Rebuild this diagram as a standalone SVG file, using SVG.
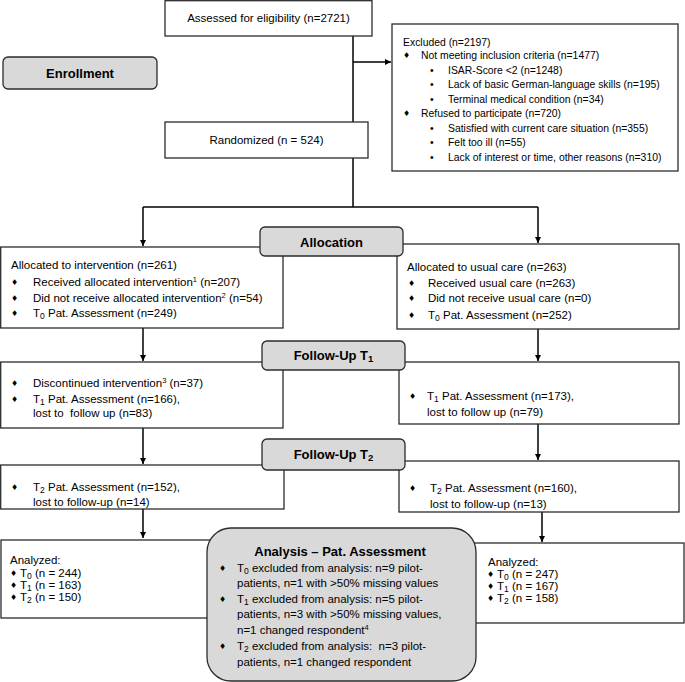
<svg xmlns="http://www.w3.org/2000/svg" width="685" height="682" viewBox="0 0 685 682">
<style>
.box{fill:#fff;stroke:#2b2b2b;stroke-width:1.3}
.lbl{fill:#d9d9d9;stroke:#2b2b2b;stroke-width:1.3}
.t{font-family:"Liberation Sans",Arial,sans-serif;font-size:11.5px;fill:#000;white-space:pre}
.s{font-size:10.4px}
.b{font-family:"Liberation Sans",Arial,sans-serif;font-size:13px;font-weight:bold;fill:#000}
.m{text-anchor:middle}
.d{font-family:"DejaVu Sans",sans-serif;font-size:8px}
.sub{font-size:8.5px}
.sup{font-size:7.5px}
.c{stroke:#000;stroke-width:1.5;fill:none}
</style>
<defs>
<marker id="ah" viewBox="0 0 10 10" refX="10" refY="5" markerWidth="6" markerHeight="6" markerUnits="userSpaceOnUse" orient="auto">
<path d="M0,0 L10,5 L0,10 z" fill="#000"/>
</marker>
</defs>

<g id="connectors">
<path class="c" d="M353,36 V122"/>
<path class="c" d="M353,62 H391" marker-end="url(#ah)"/>
<path class="c" d="M353,158 V207"/>
<path class="c" d="M143,207 H538"/>
<path class="c" d="M143,207 V246" marker-end="url(#ah)"/>
<path class="c" d="M538,207 V243" marker-end="url(#ah)"/>
<path class="c" d="M143,328 V361" marker-end="url(#ah)"/>
<path class="c" d="M538,329 V361" marker-end="url(#ah)"/>
<path class="c" d="M143,428 V464" marker-end="url(#ah)"/>
<path class="c" d="M538,424 V460" marker-end="url(#ah)"/>
<path class="c" d="M143,509 V538" marker-end="url(#ah)"/>
<path class="c" d="M542,512 V542" marker-end="url(#ah)"/>
</g>

<g id="assessed">
<rect class="box" x="165" y="0.7" width="207" height="35.3"/>
<text class="t m" x="268.5" y="22">Assessed for eligibility (n=2721)</text>
</g>

<g id="enrollment">
<rect class="lbl" x="3" y="57" width="154" height="32" rx="5"/>
<text class="b m" x="80" y="78">Enrollment</text>
</g>

<g id="excluded">
<rect class="box" x="392" y="24" width="286" height="147"/>
<text class="t s" x="403" y="46">Excluded (n=2197)</text>
<text class="t d" x="403" y="58">♦</text><text class="t s" x="421" y="59">Not meeting inclusion criteria (n=1477)</text>
<text class="t s" x="430" y="74">•</text><text class="t s" x="448" y="74">ISAR-Score &lt;2 (n=1248)</text>
<text class="t s" x="430" y="88">•</text><text class="t s" x="448" y="88">Lack of basic German-language skills (n=195)</text>
<text class="t s" x="430" y="103">•</text><text class="t s" x="448" y="103">Terminal medical condition (n=34)</text>
<text class="t d" x="403" y="116">♦</text><text class="t s" x="421" y="117">Refused to participate (n=720)</text>
<text class="t s" x="430" y="132">•</text><text class="t s" x="448" y="132">Satisfied with current care situation (n=355)</text>
<text class="t s" x="430" y="146">•</text><text class="t s" x="448" y="146">Felt too ill (n=55)</text>
<text class="t s" x="430" y="161">•</text><text class="t s" x="448" y="161">Lack of interest or time, other reasons (n=310)</text>
</g>

<g id="randomized">
<rect class="box" x="165" y="122" width="203" height="36"/>
<text class="t m" x="266.5" y="144">Randomized (n = 524)</text>
</g>

<g id="alloc-intervention">
<rect class="box" x="0.7" y="247" width="282.3" height="81"/>
<text class="t" x="11" y="269">Allocated to intervention (n=261)</text>
<text class="t d" x="11" y="285">♦</text><text class="t" x="33" y="286">Received allocated intervention<tspan class="sup" dy="-4">1</tspan><tspan dy="4"> (n=207)</tspan></text>
<text class="t d" x="11" y="301">♦</text><text class="t" x="33" y="302">Did not receive allocated intervention<tspan class="sup" dy="-4">2</tspan><tspan dy="4"> (n=54)</tspan></text>
<text class="t d" x="11" y="316">♦</text><text class="t" x="33" y="317">T<tspan class="sub" dy="2">0</tspan><tspan dy="-2"> Pat. Assessment (n=249)</tspan></text>
</g>

<g id="alloc-usual">
<rect class="box" x="397" y="244" width="282" height="85"/>
<text class="t" x="407" y="271">Allocated to usual care (n=263)</text>
<text class="t d" x="408" y="286">♦</text><text class="t" x="428" y="287">Received usual care (n=263)</text>
<text class="t d" x="408" y="301">♦</text><text class="t" x="428" y="302">Did not receive usual care (n=0)</text>
<text class="t d" x="408" y="318">♦</text><text class="t" x="428" y="319">T<tspan class="sub" dy="2">0</tspan><tspan dy="-2"> Pat. Assessment (n=252)</tspan></text>
</g>

<g id="allocation">
<rect class="lbl" x="260" y="227" width="143" height="29" rx="5"/>
<text class="b m" x="331.5" y="247">Allocation</text>
</g>

<g id="t1-intervention">
<rect class="box" x="0.7" y="362" width="282.3" height="66"/>
<text class="t d" x="11" y="386">♦</text><text class="t" x="33" y="387">Discontinued intervention<tspan class="sup" dy="-4">3</tspan><tspan dy="4"> (n=37)</tspan></text>
<text class="t d" x="11" y="402">♦</text><text class="t" x="33" y="403">T<tspan class="sub" dy="2">1</tspan><tspan dy="-2"> Pat. Assessment (n=166),</tspan></text>
<text class="t" x="33" y="417">lost to  follow up (n=83)</text>
</g>

<g id="t1-usual">
<rect class="box" x="399" y="362" width="280" height="62"/>
<text class="t d" x="409" y="399">♦</text><text class="t" x="427" y="400">T<tspan class="sub" dy="2">1</tspan><tspan dy="-2"> Pat. Assessment (n=173),</tspan></text>
<text class="t" x="427" y="416">lost to follow up (n=79)</text>
</g>

<g id="followup-t1">
<rect class="lbl" x="262" y="341" width="143" height="29" rx="5"/>
<text class="b m" x="333.5" y="360">Follow-Up T<tspan style="font-size:9.5px" dy="2">1</tspan></text>
</g>

<g id="t2-intervention">
<rect class="box" x="0.7" y="465" width="283.3" height="44"/>
<text class="t d" x="11" y="490">♦</text><text class="t" x="33" y="491">T<tspan class="sub" dy="2">2</tspan><tspan dy="-2"> Pat. Assessment (n=152),</tspan></text>
<text class="t" x="33" y="506">lost to follow-up (n=14)</text>
</g>

<g id="t2-usual">
<rect class="box" x="399" y="461" width="280" height="51"/>
<text class="t d" x="409" y="491">♦</text><text class="t" x="430" y="492">T<tspan class="sub" dy="2">2</tspan><tspan dy="-2"> Pat. Assessment (n=160),</tspan></text>
<text class="t" x="430" y="508">lost to follow-up (n=13)</text>
</g>

<g id="followup-t2">
<rect class="lbl" x="262" y="439" width="143" height="31" rx="5"/>
<text class="b m" x="333.5" y="459">Follow-Up T<tspan style="font-size:9.5px" dy="2">2</tspan></text>
</g>

<g id="analyzed-intervention">
<rect class="box" x="1" y="540" width="240" height="78"/>
<text class="t" x="10" y="564">Analyzed:</text>
<text class="t d" x="10" y="576">♦</text><text class="t" x="20" y="577">T<tspan class="sub" dy="2">0</tspan><tspan dy="-2"> (n = 244)</tspan></text>
<text class="t d" x="10" y="588">♦</text><text class="t" x="20" y="589">T<tspan class="sub" dy="2">1</tspan><tspan dy="-2"> (n = 163)</tspan></text>
<text class="t d" x="10" y="600">♦</text><text class="t" x="20" y="601">T<tspan class="sub" dy="2">2</tspan><tspan dy="-2"> (n = 150)</tspan></text>
</g>

<g id="analyzed-usual">
<rect class="box" x="440" y="543" width="244" height="80"/>
<text class="t" x="488" y="566">Analyzed:</text>
<text class="t d" x="487" y="577">♦</text><text class="t" x="497" y="578">T<tspan class="sub" dy="2">0</tspan><tspan dy="-2"> (n = 247)</tspan></text>
<text class="t d" x="487" y="589">♦</text><text class="t" x="497" y="590">T<tspan class="sub" dy="2">1</tspan><tspan dy="-2"> (n = 167)</tspan></text>
<text class="t d" x="487" y="601">♦</text><text class="t" x="497" y="602">T<tspan class="sub" dy="2">2</tspan><tspan dy="-2"> (n = 158)</tspan></text>
</g>

<g id="analysis">
<rect class="lbl" x="207" y="528" width="269" height="153" rx="24"/>
<text class="b m" x="340" y="556">Analysis – Pat. Assessment</text>
<text class="t d" x="219" y="571">♦</text><text class="t" x="237" y="572">T<tspan class="sub" dy="2">0</tspan><tspan dy="-2"> excluded from analysis: n=9 pilot-</tspan></text>
<text class="t" x="237" y="587">patients, n=1 with &gt;50% missing values</text>
<text class="t d" x="219" y="602">♦</text><text class="t" x="237" y="603">T<tspan class="sub" dy="2">1</tspan><tspan dy="-2"> excluded from analysis: n=5 pilot-</tspan></text>
<text class="t" x="237" y="618">patients, n=3 with &gt;50% missing values,</text>
<text class="t" x="237" y="634">n=1 changed respondent<tspan class="sup" dy="-4">4</tspan></text>
<text class="t d" x="219" y="649">♦</text><text class="t" x="237" y="650">T<tspan class="sub" dy="2">2</tspan><tspan dy="-2"> excluded from analysis:  n=3 pilot-</tspan></text>
<text class="t" x="237" y="666">patients, n=1 changed respondent</text>
</g>
</svg>
